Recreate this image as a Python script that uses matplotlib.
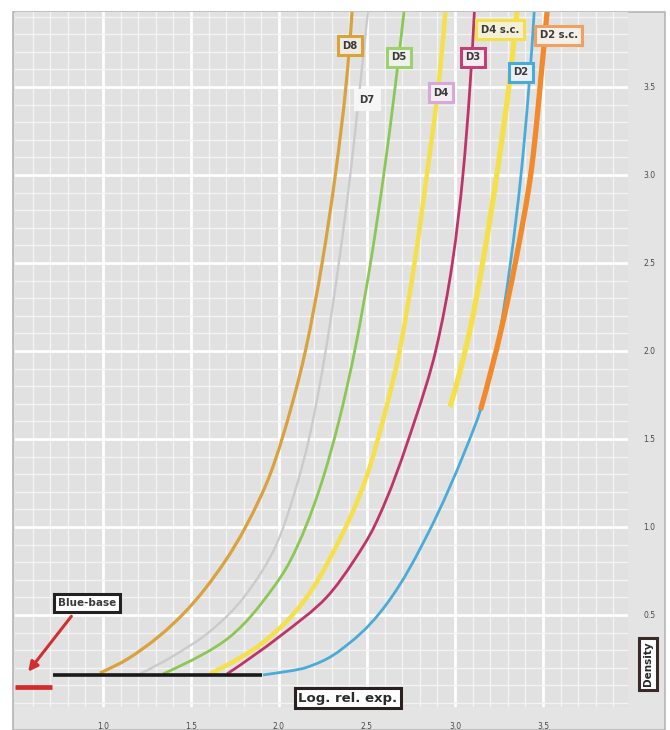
import matplotlib
matplotlib.use('Agg')
import matplotlib.pyplot as plt
from matplotlib.patches import Rectangle, PathPatch
from matplotlib.path import Path
import numpy as np

# ---------------- data (log rel. exposure, density) ----------------
d8_x = [0.983, 1.140, 1.450, 1.690, 1.810, 1.950, 2.075, 2.150, 2.245, 2.320, 2.380, 2.415]
d8_y = [0.170, 0.250, 0.500, 0.800, 1.000, 1.300, 1.700, 2.000, 2.500, 3.000, 3.500, 3.926]

d7_x = [1.210, 1.370, 1.600, 1.800, 1.985, 2.090, 2.170, 2.265, 2.340, 2.405, 2.460, 2.505]
d7_y = [0.165, 0.250, 0.400, 0.600, 0.900, 1.200, 1.500, 2.000, 2.500, 3.000, 3.500, 3.926]

d5_x = [1.341, 1.720, 1.945, 2.060, 2.225, 2.340, 2.430, 2.520, 2.595, 2.660, 2.710]
d5_y = [0.165, 0.375, 0.625, 0.800, 1.200, 1.600, 2.000, 2.500, 3.000, 3.500, 3.926]

d4_x = [1.608, 1.905, 2.135, 2.310, 2.485, 2.600, 2.685, 2.770, 2.840, 2.905, 2.945]
d4_y = [0.165, 0.340, 0.570, 0.860, 1.250, 1.640, 2.000, 2.500, 3.000, 3.500, 3.926]

d3_x = [1.705, 2.000, 2.270, 2.420, 2.540, 2.770, 2.890, 2.985, 3.045, 3.085, 3.110]
d3_y = [0.165, 0.375, 0.600, 0.800, 1.000, 1.600, 2.000, 2.500, 3.000, 3.500, 3.926]

d2_x = [1.909, 2.150, 2.400, 2.610, 2.850, 3.060, 3.145, 3.235, 3.315, 3.375, 3.420, 3.450]
d2_y = [0.159, 0.200, 0.340, 0.560, 0.970, 1.440, 1.665, 2.000, 2.500, 3.000, 3.500, 3.926]

d2sc_x = [3.145, 3.262, 3.338, 3.436, 3.494, 3.523]
d2sc_y = [1.665, 2.119, 2.477, 3.045, 3.614, 3.926]

d4sc_x = [2.972, 3.085, 3.153, 3.244, 3.313, 3.352]
d4sc_y = [1.682, 2.119, 2.477, 3.045, 3.557, 3.926]

base_x = [0.716, 1.903]
base_y = [0.159, 0.159]
bluebase_x = [0.50, 0.71]
bluebase_y = [0.091, 0.091]

x_ticks = [1.0, 1.5, 2.0, 2.5, 3.0, 3.5]
x_ticklabels = ['1.0', '1.5', '2.0', '2.5', '3.0', '3.5']
y_ticks = [0.5, 1.0, 1.5, 2.0, 2.5, 3.0, 3.5]
y_ticklabels = ['0.5', '1.0', '1.5', '2.0', '2.5', '3.0', '3.5']


def smooth_path(xs, ys):
    """Monotone (PCHIP-style) Bezier curve through the read points, x as a function of density."""
    x = np.asarray(xs, float)
    y = np.asarray(ys, float)
    h = np.diff(y)
    d = np.diff(x) / h
    n = len(x)
    m = np.zeros(n)
    for k in range(1, n - 1):
        if d[k - 1] * d[k] <= 0:
            m[k] = 0.0
        else:
            w1 = 2 * h[k] + h[k - 1]
            w2 = h[k] + 2 * h[k - 1]
            m[k] = (w1 + w2) / (w1 / d[k - 1] + w2 / d[k])
    if n > 2:
        m0 = ((2 * h[0] + h[1]) * d[0] - h[0] * d[1]) / (h[0] + h[1])
        m[0] = m0 if m0 * d[0] > 0 else d[0]
        mn = ((2 * h[-1] + h[-2]) * d[-1] - h[-1] * d[-2]) / (h[-1] + h[-2])
        m[-1] = mn if mn * d[-1] > 0 else d[-1]
    else:
        m[:] = d[0]
    verts = [(x[0], y[0])]
    codes = [Path.MOVETO]
    for i in range(n - 1):
        hh = h[i] / 3.0
        verts += [(x[i] + m[i] * hh, y[i] + hh),
                  (x[i + 1] - m[i + 1] * hh, y[i + 1] - hh),
                  (x[i + 1], y[i + 1])]
        codes += [Path.CURVE4] * 3
    return Path(verts, codes)


# ---------------- figure ----------------
W, H = 670, 730
fig = plt.figure(figsize=(W / 100, H / 100), dpi=100)
fig.patch.set_facecolor('white')

bg = fig.add_axes([0, 0, 1, 1], zorder=-5)
bg.set_xlim(0, W)
bg.set_ylim(H, 0)
bg.axis('off')
bg.add_patch(Rectangle((13, 12), 665 - 13, 730 - 12, facecolor='#e4e4e4',
                       edgecolor='#b5b5b5', lw=1.2))

ax = fig.add_axes([15 / W, (730 - 707) / H, 613 / W, 695 / H], zorder=1)
ax.set_facecolor('#e1e1e1')
ax.set_xlim(0.5, 3.983)
ax.set_ylim(-0.023, 3.926)
for s in ax.spines.values():
    s.set_visible(False)

ax.set_xticks(x_ticks)
ax.set_xticklabels(x_ticklabels)
ax.set_yticks(y_ticks)
ax.set_yticklabels(y_ticklabels)
ax.set_xticks(np.arange(0.6, 4.0, 0.1), minor=True)
ax.set_yticks(np.arange(0.0, 3.93, 0.1), minor=True)
ax.yaxis.tick_right()
ax.tick_params(which='both', length=0)
ax.tick_params(axis='x', pad=11, labelsize=5.5, labelcolor='#4a4a4a')
ax.tick_params(axis='y', pad=11, labelsize=5.5, labelcolor='#4a4a4a')
ax.grid(which='minor', color='#f3f3f3', lw=1.0)
ax.grid(which='major', color='white', lw=2.0)
ax.set_axisbelow(True)

lines = [
    (d7_x, d7_y, '#cbcbcb', 1.7),
    (d8_x, d8_y, '#d8a23e', 2.3),
    (d5_x, d5_y, '#8cc755', 2.0),
    (d4_x, d4_y, '#f4e04a', 3.2),
    (d3_x, d3_y, '#bf3468', 2.0),
    (d2_x, d2_y, '#4aacd6', 2.0),
    (d4sc_x, d4sc_y, '#f4e04a', 3.8),
    (d2sc_x, d2sc_y, '#f08a2c', 3.8),
]
for xs, ys, c, lw in lines:
    ax.add_patch(PathPatch(smooth_path(xs, ys), fill=False, edgecolor=c, lw=lw,
                           capstyle='butt', zorder=3))

ax.plot(base_x, base_y, color='#1a1a1a', lw=2.6, solid_capstyle='butt', zorder=4)
ax.plot(bluebase_x, bluebase_y, color='#d42a2a', lw=3.4, solid_capstyle='butt',
        zorder=4, clip_on=False)

# curve labels
labels = [
    ('D8', 2.403, 3.733, '#d8a23e', '#f0ebe0'),
    ('D7', 2.500, 3.426, '#f6f6f6', '#f6f6f6'),
    ('D5', 2.682, 3.670, '#9fd070', '#eef2ea'),
    ('D4', 2.920, 3.466, '#d8a8d8', '#f2eef2'),
    ('D3', 3.102, 3.670, '#c2407a', '#f4eaf0'),
    ('D2', 3.375, 3.585, '#4aacd6', '#eaf0f4'),
    ('D4 s.c.', 3.256, 3.824, '#f4e04a', '#f4f0d8'),
    ('D2 s.c.', 3.590, 3.795, '#f0a060', '#f4efe8'),
]
for txt, x, y, ec, fc in labels:
    ax.text(x, y, txt, ha='center', va='center', fontsize=7.2, fontweight='bold',
            color='#3a3a3a', zorder=6,
            bbox=dict(boxstyle='square,pad=0.45', fc=fc, ec=ec, lw=2.2))

ax.text(0.909, 0.568, 'Blue-base', ha='center', va='center', fontsize=7.5,
        fontweight='bold', color='#3a3a3a', zorder=6,
        bbox=dict(boxstyle='square,pad=0.4', fc='white', ec='#222222', lw=2.2))
ax.annotate('', xy=(0.565, 0.165), xytext=(0.830, 0.505),
            arrowprops=dict(arrowstyle='-|>', color='#d03030', lw=2.2,
                            mutation_scale=14), zorder=6)

ax.text(2.392, 0.028, 'Log. rel. exp.', ha='center', va='center', fontsize=9.5,
        fontweight='bold', color='#2a2a2a', zorder=6,
        bbox=dict(boxstyle='square,pad=0.25', fc='white', ec='#2a2020', lw=2.2))

fig.text(648 / W, 1 - 664 / H, 'Density', rotation=90, ha='center', va='center',
         fontsize=7.5, fontweight='bold', color='#2a2a2a', zorder=10,
         bbox=dict(boxstyle='square,pad=0.4', fc='white', ec='#3a2a2a', lw=2.2))

fig.savefig('out.png', dpi=100, facecolor='white')
